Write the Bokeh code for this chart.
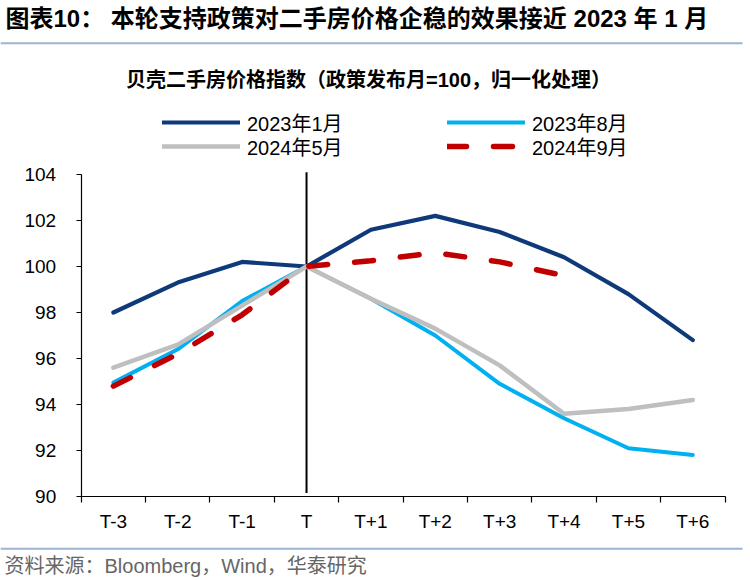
import numpy as np
from bokeh.plotting import figure
from bokeh.models import (Range1d, FixedTicker, Label, Legend, LegendItem, BoxAnnotation,
                          LinearAxis)
from bokeh.embed import file_html
from bokeh.resources import INLINE

# ---- data -------------------------------------------------------------
categories = ["T-3", "T-2", "T-1", "T", "T+1", "T+2", "T+3", "T+4", "T+5", "T+6"]
jan_2023 = [98.0, 99.3, 100.2, 100.0, 101.6, 102.2, 101.5, 100.4, 98.8, 96.8]
aug_2023 = [94.95, 96.4, 98.5, 100.0, 98.6, 97.0, 94.9, 93.4, 92.1, 91.8]
may_2024 = [95.6, 96.6, 98.3, 100.0, 98.6, 97.3, 95.7, 93.6, 93.8, 94.2]
sep_2024 = [94.8, 96.2, 97.9, 100.0, 100.25, 100.6, 100.2, 99.6]
series_names = ["2023年1月", "2023年8月", "2024年5月", "2024年9月"]
y_ticks = [90, 92, 94, 96, 98, 100, 102, 104]
policy_month = "T"

title_text = "图表10：  本轮支持政策对二手房价格企稳的效果接近 2023 年 1 月"
subtitle_text = "贝壳二手房价格指数（政策发布月=100，归一化处理）"
source_text = "资料来源：Bloomberg，Wind，华泰研究"

FONT = "Liberation Sans, Noto Sans CJK SC"
RULE = "#9CB3D4"

# ---- canvas geometry (px) ---------------------------------------------
W, H = 750, 580
AX_L, AX_R, AX_T, AX_B = 80.7, 724.5, 174.0, 496.0   # plot-area box on the canvas
n = len(categories)
ux = (AX_R - AX_L) / n
uy = (AX_B - AX_T) / (y_ticks[-1] - y_ticks[0])
x_range = Range1d(-AX_L / ux, n + (W - AX_R) / ux)
y_range = Range1d(y_ticks[0] - (H - AX_B) / uy, y_ticks[-1] + AX_T / uy)

def cy(page_y):           # page y (top-down) -> screen units (bottom-up)
    return H - page_y

pos = np.arange(n) + 0.5
bounds = list(np.arange(n + 1).astype(float))

p = figure(width=W, height=H, output_backend="svg", toolbar_location=None,
           x_range=x_range, y_range=y_range, min_border=0,
           x_axis_location=None, y_axis_location=None)
p.outline_line_color = None
p.grid.visible = False
p.background_fill_color = "white"
p.border_fill_color = "white"

# axes (fixed inside the frame)
xa = LinearAxis(fixed_location=y_ticks[0], bounds=(0, n))
xa.ticker = FixedTicker(ticks=list(pos), minor_ticks=bounds)
xa.major_label_overrides = {float(v): c for v, c in zip(pos, categories)}
xa.major_tick_line_color = None
xa.major_tick_out = 0
xa.major_tick_in = 0
xa.minor_tick_out = 6
xa.minor_tick_in = 0
xa.minor_tick_line_color = "black"
xa.minor_tick_line_width = 1.2
xa.axis_line_color = "black"
xa.axis_line_width = 1.2
xa.major_label_text_font = FONT
xa.major_label_text_font_size = "19px"
xa.major_label_text_color = "black"
xa.major_label_standoff = 8
p.add_layout(xa, "below")

ya = LinearAxis(fixed_location=0, bounds=(y_ticks[0], y_ticks[-1]))
ya.ticker = FixedTicker(ticks=y_ticks, minor_ticks=[])
ya.major_tick_out = 5
ya.major_tick_in = 0
ya.major_tick_line_color = "black"
ya.major_tick_line_width = 1.2
ya.axis_line_color = "black"
ya.axis_line_width = 1.2
ya.major_label_text_font = FONT
ya.major_label_text_font_size = "19px"
ya.major_label_text_color = "black"
ya.major_label_standoff = 20
p.add_layout(ya, "left")

# policy month marker
t_pos = pos[categories.index(policy_month)]
p.segment(x0=[t_pos], y0=[y_ticks[0] + 0.15], x1=[t_pos], y1=[y_ticks[-1] + 0.1],
          line_color="black", line_width=2)

# series
r1 = p.line(pos, jan_2023, line_color="#0E3A7A", line_width=4.2, line_join="round", line_cap="round")
r2 = p.line(pos, aug_2023, line_color="#00B0F0", line_width=4, line_join="round", line_cap="round")
r3 = p.line(pos, may_2024, line_color="#BFBFBF", line_width=4.5, line_join="round", line_cap="round")
r4 = p.line(pos[:len(sep_2024)], sep_2024, line_color="#C00000", line_width=5.5,
            line_dash="19 27", line_cap="round", line_join="round")

# legend: one entry per Legend so rows can be spaced like the reference
ITEM_H = 30
def legend_entry(name, renderer, x_left, row_center):
    return Legend(items=[LegendItem(label=name, renderers=[renderer])],
                  location=(x_left, cy(row_center + ITEM_H / 2)),
                  glyph_width=78, glyph_height=ITEM_H, label_height=ITEM_H, label_width=10,
                  spacing=0, padding=0, margin=0, label_standoff=7,
                  border_line_color=None, background_fill_alpha=0,
                  label_text_font=FONT, label_text_font_size="20px",
                  label_text_color="black", label_text_baseline="middle")

p.add_layout(legend_entry(series_names[0], r1, 162, 122.3))
p.add_layout(legend_entry(series_names[1], r2, 447, 122.3))
p.add_layout(legend_entry(series_names[2], r3, 162, 146.0))
p.add_layout(legend_entry(series_names[3], r4, 447, 146.0))

# title, subtitle, rules, source
def rule(page_y):
    return BoxAnnotation(left=0, right=742, bottom=cy(page_y + 1), top=cy(page_y - 1),
                         left_units="screen", right_units="screen", top_units="screen",
                         bottom_units="screen", fill_color=RULE, fill_alpha=1, line_color=None)

p.add_layout(Label(x=5, y=cy(17.5), x_units="screen", y_units="screen", text=title_text,
                   text_font=FONT, text_font_size="24px", text_font_style="bold",
                   text_color="black", text_baseline="middle", text_align="left"))
p.add_layout(rule(42.7))
p.add_layout(Label(x=368, y=cy(79), x_units="screen", y_units="screen", text=subtitle_text,
                   text_font=FONT, text_font_size="20px", text_font_style="bold",
                   text_color="black", text_baseline="middle", text_align="center"))
p.add_layout(rule(548.3))
p.add_layout(Label(x=4, y=cy(565), x_units="screen", y_units="screen", text=source_text,
                   text_font=FONT, text_font_size="20px",
                   text_color="#666666", text_baseline="middle", text_align="left"))

open("out.html", "w").write(file_html(p, INLINE))
